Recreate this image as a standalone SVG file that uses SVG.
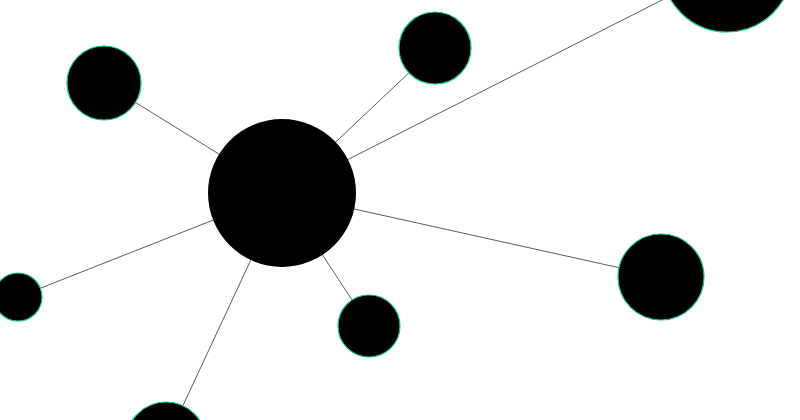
<svg xmlns="http://www.w3.org/2000/svg" width="800" height="420" viewBox="0 0 800 420">
<style>
.link{stroke:#333;stroke-width:0.8;fill:none}
.node{fill:#000;stroke:#10c88a;stroke-width:1.2}
.hub{fill:#000;stroke:none}
</style>
<rect width="800" height="420" fill="#fff"/>
<g id="links">
<line class="link" x1="282" y1="193" x2="104" y2="83"/>
<line class="link" x1="282" y1="193" x2="435" y2="48"/>
<line class="link" x1="282" y1="193" x2="727" y2="-33"/>
<line class="link" x1="282" y1="193" x2="661" y2="277"/>
<line class="link" x1="282" y1="193" x2="369" y2="326"/>
<line class="link" x1="282" y1="193" x2="18" y2="297"/>
<line class="link" x1="282" y1="193" x2="166" y2="442"/>
</g>
<g id="n0"><circle class="hub" cx="282" cy="193" r="74"/></g>
<g id="n1"><circle class="node" cx="104" cy="83" r="37"/></g>
<g id="n2"><circle class="node" cx="435" cy="48" r="36"/></g>
<g id="n3"><circle class="node" cx="727" cy="-33" r="65"/></g>
<g id="n4"><circle class="node" cx="661" cy="277" r="43"/></g>
<g id="n5"><circle class="node" cx="369" cy="326" r="31"/></g>
<g id="n6"><circle class="node" cx="18" cy="297" r="24"/></g>
<g id="n7"><circle class="node" cx="166" cy="442" r="40"/></g>
</svg>
